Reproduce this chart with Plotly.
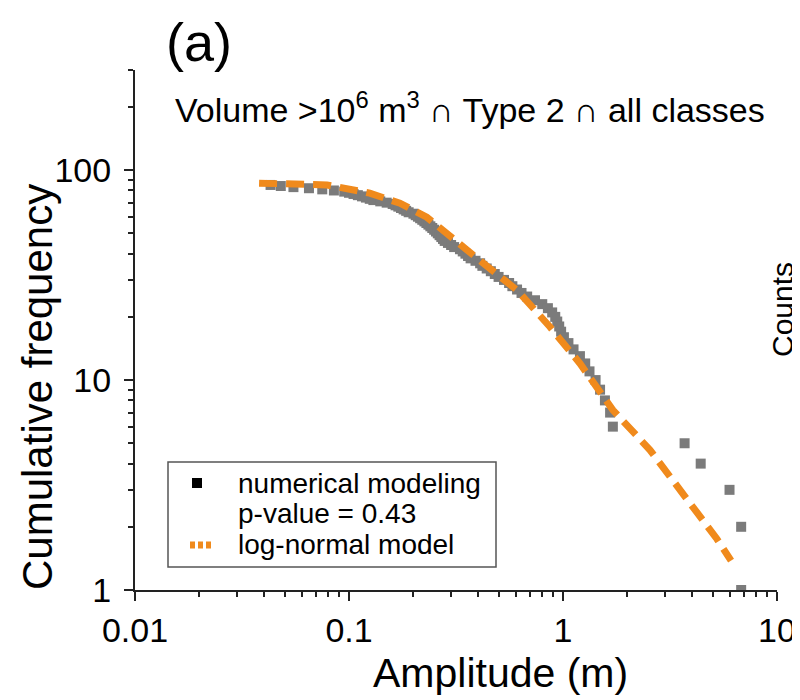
import plotly.graph_objects as go

# Observed data: amplitude (m) vs cumulative frequency (rank)
amp = [0.043, 0.048, 0.055, 0.065, 0.075, 0.085, 0.095, 0.10, 0.105, 0.11,
       0.115, 0.12, 0.125, 0.13, 0.14, 0.15, 0.16, 0.165, 0.17, 0.175,
       0.18, 0.185, 0.19, 0.20, 0.205, 0.21, 0.215, 0.22, 0.225, 0.23,
       0.235, 0.24, 0.245, 0.25, 0.255, 0.26, 0.265, 0.27, 0.275, 0.28,
       0.29, 0.30, 0.31, 0.33, 0.34, 0.35, 0.36, 0.37, 0.39, 0.41,
       0.42, 0.44, 0.46, 0.48, 0.50, 0.53, 0.56, 0.58, 0.61, 0.64,
       0.68, 0.74, 0.80, 0.85, 0.89, 0.92, 0.94, 0.96, 0.98, 1.01,
       1.06, 1.12, 1.20, 1.27, 1.33, 1.42, 1.49, 1.57, 1.66, 1.71,
       3.7, 4.4, 6.0, 6.8, 6.8]
cumfreq = [85, 84, 83, 82, 81, 80, 79, 78, 77, 76,
           75, 74, 73, 72, 71, 70, 69, 68, 67, 66,
           65, 64, 63, 62, 61, 60, 59, 58, 57, 56,
           55, 54, 53, 52, 51, 50, 49, 48, 47, 46,
           45, 44, 43, 42, 41, 40, 39, 38, 37, 36,
           35, 34, 33, 32, 31, 30, 29, 28, 27, 26,
           25, 24, 23, 22, 21, 20, 19, 18, 17, 16,
           15, 14, 13, 12, 11, 10, 9, 8, 7, 6,
           5, 4, 3, 2, 1]

# Log-normal model curve
model_x = [0.038, 0.079, 0.125, 0.173, 0.231, 0.297, 0.423, 0.610, 0.870,
           1.20, 1.71, 2.55, 3.64, 5.24, 6.1]
model_y = [86.7, 85.0, 77.7, 69.6, 59.7, 48.0, 36.1, 26.8, 17.9,
           12.0, 7.2, 4.64, 2.90, 1.75, 1.38]

x_ticks = [0.01, 0.1, 1, 10]
x_ticktext = ["0.01", "0.1", "1", "10"]
y_ticks = [1, 10, 100]
y_ticktext = ["1", "10", "100"]

legend_labels = ["numerical modeling", "p-value = 0.43", "log-normal model"]

FONT = "Liberation Sans, Arial, sans-serif"
GREY = "#7b7b7b"
ORANGE = "#f08a1c"

# the page has an 8px body margin, so the figure is drawn 8px in from the corner
OFF = 8
FIG_W, FIG_H = 800, 700 - OFF
# plot area in screen pixels: x 135..777, y 70..590
L, R, T, B = 135, 777, 70, 590
W, H = R - L, B - T


def px(xs):
    return (xs - L) / W


def py(ys):
    return (B - ys) / H


fig = go.Figure()

fig.add_trace(go.Scatter(
    x=amp, y=cumfreq, mode="markers",
    marker=dict(symbol="square", size=10, color=GREY),
    showlegend=False, hoverinfo="skip"))

fig.add_trace(go.Scatter(
    x=model_x, y=model_y, mode="lines",
    line=dict(color=ORANGE, width=7, dash="18px,9px"),
    showlegend=False, hoverinfo="skip"))

axis_common = dict(
    type="log", showgrid=False, zeroline=False, automargin=False,
    showline=True, linecolor="#222", linewidth=2,
    ticks="outside", ticklen=9, tickwidth=2, tickcolor="#222",
    tickfont=dict(family=FONT, size=34, color="black"),
    minor=dict(ticks="outside", ticklen=5, tickwidth=2, tickcolor="#222",
               dtick="D1", showgrid=False),
    mirror=False,
)

shapes = [
    dict(type="rect", xref="paper", yref="paper",
         x0=px(168), x1=px(496), y0=py(567), y1=py(462),
         line=dict(color="#555", width=1.5), fillcolor="white", layer="above"),
    dict(type="rect", xref="paper", yref="paper",
         x0=px(192), x1=px(202), y0=py(488), y1=py(478),
         line=dict(width=0), fillcolor="black", layer="above"),
    dict(type="line", xref="paper", yref="paper",
         x0=px(190), x1=px(213), y0=py(545), y1=py(545),
         line=dict(color=ORANGE, width=7, dash="5px,3px"), layer="above"),
]

annotations = [
    dict(text="(a)", x=px(199), y=py(42), xref="paper", yref="paper",
         showarrow=False, font=dict(size=54, family=FONT), xanchor="center", yanchor="middle"),
    dict(text="Volume >10<sup>6</sup> m<sup>3</sup> ∩ Type 2 ∩ all classes",
         x=px(173), y=py(108), xref="paper", yref="paper", showarrow=False,
         font=dict(size=34, family=FONT), xanchor="left", yanchor="middle"),
    dict(text="Counts", x=px(782), y=py(310), xref="paper", yref="paper",
         showarrow=False, textangle=-90, font=dict(size=30, family=FONT),
         xanchor="center", yanchor="middle"),
    dict(text="Amplitude (m)", x=px(501), y=py(673), xref="paper", yref="paper",
         showarrow=False, font=dict(size=41, family=FONT),
         xanchor="center", yanchor="middle"),
    dict(text="Cumulative frequency", x=px(37), y=py(387), xref="paper", yref="paper",
         showarrow=False, textangle=-90, font=dict(size=42, family=FONT),
         xanchor="center", yanchor="middle"),
]
for label, ys in zip(legend_labels, [483, 513, 544]):
    annotations.append(dict(text=label, x=px(236), y=py(ys), xref="paper", yref="paper",
                            showarrow=False, font=dict(size=28, family=FONT),
                            xanchor="left", yanchor="middle"))

fig.update_layout(
    width=FIG_W, height=FIG_H,
    margin=dict(l=L - OFF, r=FIG_W - (R - OFF), t=T - OFF, b=FIG_H - (B - OFF)),
    plot_bgcolor="white", paper_bgcolor="white",
    font=dict(family=FONT, color="black"),
    showlegend=False,
    xaxis=dict(**axis_common, range=[-2, 1], tickvals=x_ticks, ticktext=x_ticktext),
    yaxis=dict(**axis_common, range=[0, 2.477], tickvals=y_ticks, ticktext=y_ticktext,
               ticklabelstandoff=6),
    shapes=shapes,
    annotations=annotations,
)

fig.write_html("out.html")
